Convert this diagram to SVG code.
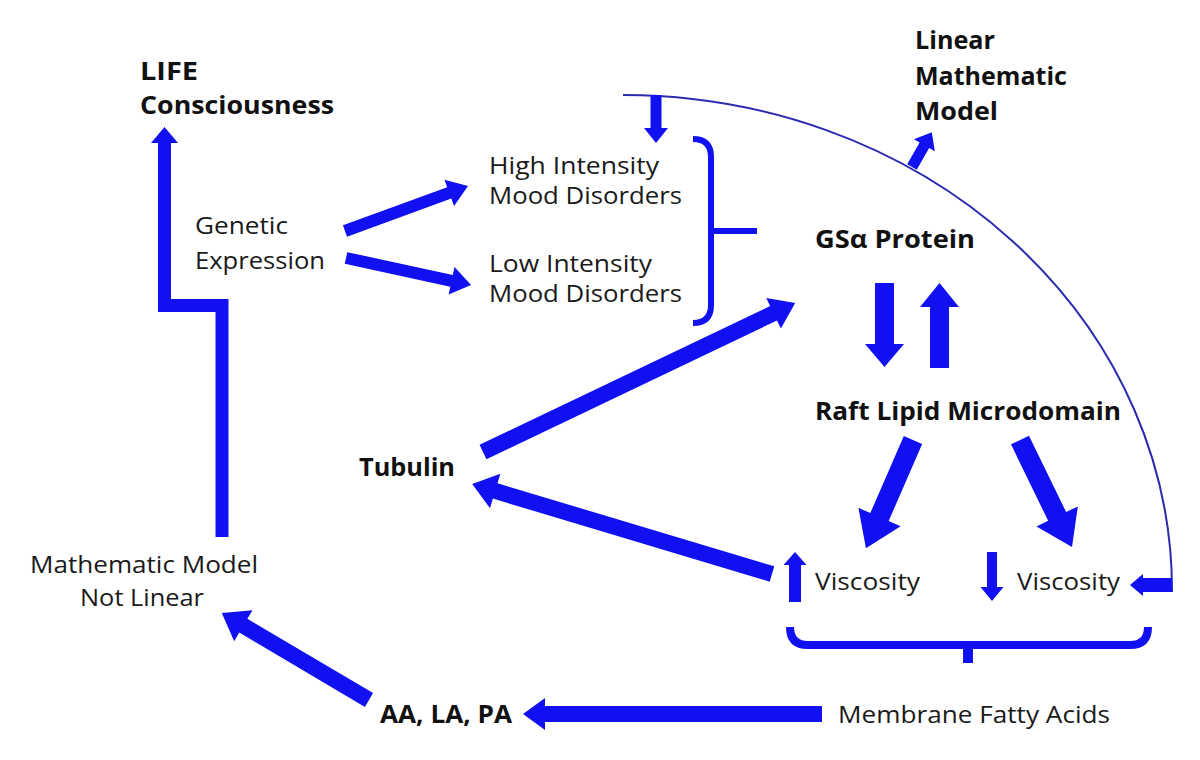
<svg xmlns="http://www.w3.org/2000/svg" width="1200" height="760" viewBox="0 0 1200 760">
<style>
.t{font-family:"Open Sans","Liberation Sans",sans-serif;font-size:24px;fill:#1a1a1a}
.b{font-family:"Open Sans","Liberation Sans",sans-serif;font-size:25px;font-weight:bold;fill:#111}
.a{fill:#1010f0}
.s{fill:none;stroke:#1010f0}
.arc{fill:none;stroke:#2b2bb0;stroke-width:2}
</style>
<rect width="1200" height="760" fill="#fff"/>

<g id="life"><text class="b" x="140" y="80" textLength="58" lengthAdjust="spacingAndGlyphs">LIFE</text><text class="b" x="140" y="114" textLength="194" lengthAdjust="spacingAndGlyphs">Consciousness</text></g>
<g id="genetic"><text class="t" x="195" y="234" textLength="93" lengthAdjust="spacingAndGlyphs">Genetic</text><text class="t" x="195" y="269" textLength="130" lengthAdjust="spacingAndGlyphs">Expression</text></g>
<g id="high"><text class="t" x="489" y="174" textLength="170" lengthAdjust="spacingAndGlyphs">High Intensity</text><text class="t" x="489" y="204" textLength="193" lengthAdjust="spacingAndGlyphs">Mood Disorders</text></g>
<g id="low"><text class="t" x="489" y="272" textLength="163" lengthAdjust="spacingAndGlyphs">Low Intensity</text><text class="t" x="489" y="302" textLength="193" lengthAdjust="spacingAndGlyphs">Mood Disorders</text></g>
<g id="linear"><text class="b" x="915" y="49" textLength="80" lengthAdjust="spacingAndGlyphs">Linear</text><text class="b" x="915" y="85" textLength="152" lengthAdjust="spacingAndGlyphs">Mathematic</text><text class="b" x="915" y="120" textLength="83" lengthAdjust="spacingAndGlyphs">Model</text></g>
<g id="gsa"><text class="b" x="815" y="248" textLength="160" lengthAdjust="spacingAndGlyphs">GSα Protein</text></g>
<g id="raft"><text class="b" x="815" y="420" textLength="306" lengthAdjust="spacingAndGlyphs">Raft Lipid Microdomain</text></g>
<g id="tubulin"><text class="b" x="359" y="476" textLength="96" lengthAdjust="spacingAndGlyphs">Tubulin</text></g>
<g id="visc-up"><text class="t" x="815" y="590" textLength="105" lengthAdjust="spacingAndGlyphs">Viscosity</text></g>
<g id="visc-down"><text class="t" x="1017" y="590" textLength="103" lengthAdjust="spacingAndGlyphs">Viscosity</text></g>
<g id="nonlinear"><text class="t" x="30" y="573" textLength="228" lengthAdjust="spacingAndGlyphs">Mathematic Model</text><text class="t" x="80" y="606" textLength="124" lengthAdjust="spacingAndGlyphs">Not Linear</text></g>
<g id="aa"><text class="b" x="380" y="723" textLength="132" lengthAdjust="spacingAndGlyphs">AA, LA, PA</text></g>
<g id="membrane"><text class="t" x="838" y="723" textLength="272" lengthAdjust="spacingAndGlyphs">Membrane Fatty Acids</text></g>

<g id="connectors">
  <path class="arc" d="M623,95 A549,495 0 0 1 1172,592"/>
  <path class="s" stroke-width="13" stroke-linejoin="miter" d="M222,537 V305.5 H164.5 V142"/>
  <polygon class="a" points="164.5,127 151,143 178,143"/>
  <path class="s" stroke-width="6" d="M693,139 Q711,139 711,157 V305 Q711,323 693,323 M711,231 H757"/>
  <path class="s" stroke-width="8" d="M790,627 Q790,645 808,645 H1130 Q1148,645 1148,627"/>
  <rect class="a" x="963" y="645" width="10" height="18"/>

  <g transform="translate(345,231) rotate(-20.1)"><polygon class="a" points="0,-6 111,-6 111,-14 131,0 111,14 111,6 0,6"/></g>
  <g transform="translate(346,258) rotate(12.19)"><polygon class="a" points="0,-6 108,-6 108,-14 128,0 108,14 108,6 0,6"/></g>
  <g transform="translate(656,95) rotate(90)"><polygon class="a" points="0,-5.5 33,-5.5 33,-12 48,0 33,12 33,5.5 0,5.5"/></g>
  <g transform="translate(912,167) rotate(-60.3)"><polygon class="a" points="0,-5.5 25,-5.5 25,-12 40,0 25,12 25,5.5 0,5.5"/></g>
  <g transform="translate(483,452) rotate(-25.53)"><polygon class="a" points="0,-8 322,-8 322,-17 346,0 322,17 322,8 0,8"/></g>
  <g transform="translate(884.5,283) rotate(90)"><polygon class="a" points="0,-9.5 61,-9.5 61,-19.5 84,0 61,19.5 61,9.5 0,9.5"/></g>
  <g transform="translate(939.5,368) rotate(-90)"><polygon class="a" points="0,-9.5 61,-9.5 61,-19.5 85,0 61,19.5 61,9.5 0,9.5"/></g>
  <g transform="translate(913,440) rotate(113.5)"><polygon class="a" points="0,-10 84,-10 84,-23 118,0 84,23 84,10 0,10"/></g>
  <g transform="translate(1020,440) rotate(64.08)"><polygon class="a" points="0,-10 85,-10 85,-23 119,0 85,23 85,10 0,10"/></g>
  <g transform="translate(772,574) rotate(-163.3)"><polygon class="a" points="0,-8 289,-8 289,-18 313,0 289,18 289,8 0,8"/></g>
  <g transform="translate(795,602) rotate(-90)"><polygon class="a" points="0,-6 37,-6 37,-11.5 50,0 37,11.5 37,6 0,6"/></g>
  <g transform="translate(992,552) rotate(90)"><polygon class="a" points="0,-5 35,-5 35,-11.5 49,0 35,11.5 35,5 0,5"/></g>
  <g transform="translate(1172,585) rotate(180)"><polygon class="a" points="0,-7 29,-7 29,-11 42,0 29,11 29,7 0,7"/></g>
  <g transform="translate(822,714) rotate(180)"><polygon class="a" points="0,-8 277,-8 277,-16 299,0 277,16 277,8 0,8"/></g>
  <g transform="translate(369,700) rotate(-149.4)"><polygon class="a" points="0,-8 146,-8 146,-18 171,0 146,18 146,8 0,8"/></g>
</g>
</svg>
